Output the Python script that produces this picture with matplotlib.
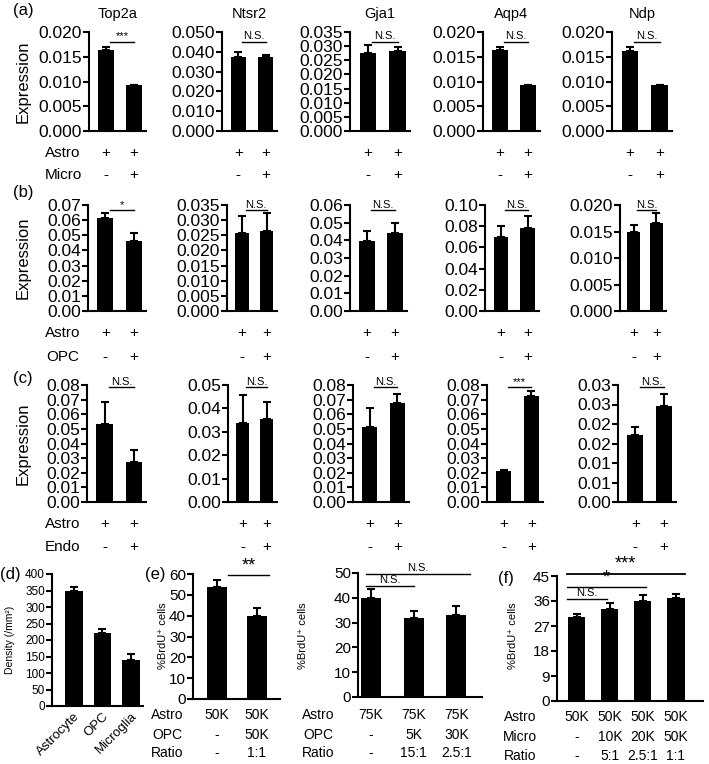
import numpy as np
import matplotlib
matplotlib.use("Agg")
import matplotlib.pyplot as plt
from matplotlib.ticker import FuncFormatter
from matplotlib.transforms import blended_transform_factory

plt.rcParams['font.family'] = ['Liberation Sans', 'DejaVu Sans']

# ---- data: qPCR expression in co-culture (rows a, b, c) ----
genes = ["Top2a", "Ntsr2", "Gja1", "Aqp4", "Ndp"]
partners = ["Micro", "OPC", "Endo"]
astro_signs = ["+", "+"]
partner_signs = ["-", "+"]

micro_mean = [[0.0163, 0.0092], [0.0374, 0.0374], [0.0275, 0.0284], [0.0163, 0.0092], [0.0162, 0.0092]]
micro_err = [[0.0007, 0.0001], [0.0025, 0.0009], [0.0030, 0.0012], [0.0007, 0.0001], [0.0008, 0.0001]]
micro_sig = ["***", "N.S.", "N.S.", "N.S.", "N.S."]

opc_mean = [[0.0613, 0.0465], [0.0258, 0.0265], [0.0396, 0.0441], [0.0694, 0.0780], [0.0149, 0.0166]]
opc_err = [[0.0033, 0.0050], [0.0056, 0.0058], [0.0058, 0.0056], [0.0112, 0.0117], [0.0013, 0.0018]]
opc_sig = ["*", "N.S.", "N.S.", "N.S.", "N.S."]

endo_mean = [[0.0532, 0.0275], [0.0337, 0.0354], [0.0516, 0.0680], [0.0209, 0.0727], [0.0172, 0.0245]]
endo_err = [[0.0150, 0.0082], [0.0120, 0.0075], [0.0129, 0.0056], [0.0011, 0.0034], [0.0020, 0.0031]]
endo_sig = ["N.S.", "N.S.", "N.S.", "***", "N.S."]

# y axis ranges (top, step, decimals)
micro_top = [0.020, 0.050, 0.035, 0.020, 0.020]
micro_step = [0.005, 0.010, 0.005, 0.005, 0.005]
micro_dec = [3, 3, 3, 3, 3]
opc_top = [0.07, 0.035, 0.06, 0.10, 0.020]
opc_step = [0.01, 0.005, 0.01, 0.02, 0.005]
opc_dec = [2, 3, 2, 2, 3]
endo_top = [0.08, 0.05, 0.08, 0.08, 0.030]
endo_step = [0.01, 0.01, 0.01, 0.01, 0.005]
endo_dec = [2, 2, 2, 2, 2]

# ---- (d) cell density ----
density_cells = ["Astrocyte", "OPC", "Microglia"]
density_mean = [350, 220, 138]
density_err = [10, 13, 19]

# ---- (e) BrdU with OPC ----
e1_mean = [54, 40]
e1_err = [3, 3.5]
e1_astro = ["50K", "50K"]
e1_opc = ["-", "50K"]
e1_ratio = ["-", "1:1"]

e2_mean = [40, 32, 33]
e2_err = [3.5, 2.5, 3.6]
e2_astro = ["75K", "75K", "75K"]
e2_opc = ["-", "5K", "30K"]
e2_ratio = ["-", "15:1", "2.5:1"]

# ---- (f) BrdU with microglia ----
f_mean = [30.1, 33.1, 36.0, 37.0]
f_err = [1.2, 2.3, 2.3, 1.4]
f_astro = ["50K", "50K", "50K", "50K"]
f_micro = ["-", "10K", "20K", "50K"]
f_ratio = ["-", "5:1", "2.5:1", "1:1"]

W, H = 709, 764
fig = plt.figure(figsize=(W / 100, H / 100), dpi=100)


def add_ax(x0, y0, x1, y1):
    return fig.add_axes([x0 / W, 1 - y1 / H, (x1 - x0) / W, (y1 - y0) / H])


def ftext(x, y, s, **kw):
    fig.text(x / W, 1 - y / H, s, **kw)


def style(ax, size):
    for s in ['top', 'right']:
        ax.spines[s].set_visible(False)
    ax.spines['left'].set_linewidth(1.5)
    ax.spines['bottom'].set_linewidth(1.5)
    ax.tick_params(axis='y', direction='out', length=4, width=1.5, pad=1, labelsize=size)
    ax.tick_params(axis='x', length=0, labelbottom=False)


def bars(ax, means, errs, width):
    x = np.arange(len(means))
    ax.bar(x, means, width, color='black', zorder=2)
    ax.errorbar(x, means, yerr=[np.zeros(len(errs)), errs], fmt='none', ecolor='black',
                elinewidth=1.5, capsize=3, capthick=1.5, zorder=3)
    return x


def half_up(dec):
    return FuncFormatter(lambda v, p: f"{np.floor(v * 10 ** dec + 0.5 + 1e-9) / 10 ** dec:.{dec}f}")


def sig_bar(ax, label, x0, x1, y, size, trans, lw=1.0):
    ax.plot([x0, x1], [y, y], color='black', lw=lw, transform=trans, clip_on=False)
    ax.annotate(label, xy=((x0 + x1) / 2, y), xycoords=trans, xytext=(0, 0.5),
                textcoords='offset points', ha='center', va='bottom', fontsize=size,
                annotation_clip=False)


def sign_row(ax, xs, labels, dy, size=11):
    for xv, lab in zip(xs, labels):
        ax.annotate(lab, xy=(xv, 0), xycoords=('data', 'axes fraction'), xytext=(0, -dy),
                    textcoords='offset pixels', ha='center', va='center', fontsize=size,
                    annotation_clip=False)


# ---- expression rows ----
row_box = [(32, 131), (205, 311), (385, 502)]
col_box = [[(89, 146), (222, 277), (350, 410), (483, 540), (612, 672)],
           [(88, 146), (227, 277), (350, 407), (485, 539), (620, 666)],
           [(87, 146), (228, 277), (353, 409), (487, 543), (618, 676)]]
row_sig_y = [0.90, 0.95, 0.98]
row_letters = ["(a)", "(b)", "(c)"]
letter_y = [10, 193, 378]
sign_dy = [(22, 44), (22, 46), (22, 45)]

rows = [(micro_mean, micro_err, micro_sig, micro_top, micro_step, micro_dec),
        (opc_mean, opc_err, opc_sig, opc_top, opc_step, opc_dec),
        (endo_mean, endo_err, endo_sig, endo_top, endo_step, endo_dec)]

for r, (means, errs, sigs, tops, steps, decs) in enumerate(rows):
    y0, y1 = row_box[r]
    for c in range(5):
        x0, x1 = col_box[r][c]
        ax = add_ax(x0, y0, x1, y1)
        style(ax, 12.5)
        xs = bars(ax, means[c], errs[c], 0.55)
        ax.set_xlim(-0.6, 1.42)
        ax.set_ylim(0, tops[c])
        ax.set_yticks(np.arange(0, tops[c] + steps[c] / 2, steps[c]))
        ax.yaxis.set_major_formatter(half_up(decs[c]))
        trans = blended_transform_factory(ax.transData, ax.transAxes)
        sig_bar(ax, sigs[c], 0.15, 1.0, row_sig_y[r], 8, trans)
        sign_row(ax, xs, astro_signs, sign_dy[r][0])
        sign_row(ax, xs, partner_signs, sign_dy[r][1])
        if r == 0:
            ax.set_title(genes[c], fontsize=10.5, pad=10)
    ftext(23, (y0 + y1) / 2, "Expression", rotation=90, ha='center', va='center', fontsize=12)
    ftext(63, y1 + sign_dy[r][0], "Astro", ha='center', va='center', fontsize=11)
    ftext(63, y1 + sign_dy[r][1], partners[r], ha='center', va='center', fontsize=11)
    ftext(23, letter_y[r], row_letters[r], ha='center', va='center', fontsize=12)

# ---- (d) ----
ax = add_ax(52, 574, 143, 706)
style(ax, 8.5)
xs = bars(ax, density_mean, density_err, 0.63)
ax.set_xlim(-0.77, 2.42)
ax.set_ylim(0, 400)
ax.set_yticks(np.arange(0, 401, 50))
ax.set_xticks(xs)
ax.set_xticklabels(density_cells, rotation=45, ha='right', rotation_mode='anchor', fontsize=9.5)
ax.tick_params(axis='x', labelbottom=True, pad=3)
ftext(10, 640, "Density (/mm²)", rotation=90, ha='center', va='center', fontsize=7.5)
ftext(10, 575, "(d)", ha='center', va='center', fontsize=12)

# ---- (e) left ----
ax = add_ax(193, 574, 280, 699)
style(ax, 11)
xs = bars(ax, e1_mean, e1_err, 0.5)
ax.set_xlim(-0.6, 1.58)
ax.set_ylim(0, 60)
ax.set_yticks(np.arange(0, 61, 10))
sig_bar(ax, "**", 0.28, 1.3, 59.5, 13, ax.transData)
sign_row(ax, xs, e1_astro, 16, 10)
sign_row(ax, xs, e1_opc, 36, 10)
sign_row(ax, xs, e1_ratio, 54, 10)
ftext(167, 715, "Astro", ha='center', va='center', fontsize=10)
ftext(167, 735, "OPC", ha='center', va='center', fontsize=10)
ftext(167, 753, "Ratio", ha='center', va='center', fontsize=10)
ftext(163, 636, "%BrdU⁺ cells", rotation=90, ha='center', va='center', fontsize=8)
ftext(155, 575, "(e)", ha='center', va='center', fontsize=12)

# ---- (e) right ----
ax = add_ax(358, 573, 482, 697)
style(ax, 11)
xs = bars(ax, e2_mean, e2_err, 0.47)
ax.set_xlim(-0.3, 2.6)
ax.set_ylim(0, 50)
ax.set_yticks(np.arange(0, 51, 10))
sig_bar(ax, "N.S.", -0.12, 2.33, 49.6, 8, ax.transData)
sig_bar(ax, "N.S.", -0.12, 1.0, 44.8, 8, ax.transData)
sign_row(ax, xs, e2_astro, 18, 10)
sign_row(ax, xs, e2_opc, 38, 10)
sign_row(ax, xs, e2_ratio, 56, 10)
ftext(318, 715, "Astro", ha='center', va='center', fontsize=10)
ftext(318, 735, "OPC", ha='center', va='center', fontsize=10)
ftext(318, 753, "Ratio", ha='center', va='center', fontsize=10)
ftext(303, 636, "%BrdU⁺ cells", rotation=90, ha='center', va='center', fontsize=8)

# ---- (f) ----
ax = add_ax(557, 576, 703, 701)
style(ax, 11)
xs = bars(ax, f_mean, f_err, 0.52)
ax.set_xlim(-0.6, 3.82)
ax.set_ylim(0, 45)
ax.set_yticks(np.arange(0, 46, 9))
sig_bar(ax, "***", -0.3, 3.27, 45.9, 13, ax.transData, lw=1.3)
sig_bar(ax, "*", -0.3, 2.1, 41.0, 13, ax.transData)
sig_bar(ax, "N.S.", -0.3, 0.9, 36.7, 8, ax.transData)
sign_row(ax, xs, f_astro, 16, 10)
sign_row(ax, xs, f_micro, 36, 10)
sign_row(ax, xs, f_ratio, 55, 10)
ftext(520, 717, "Astro", ha='center', va='center', fontsize=10)
ftext(520, 737, "Micro", ha='center', va='center', fontsize=10)
ftext(520, 756, "Ratio", ha='center', va='center', fontsize=10)
ftext(513, 636, "%BrdU⁺ cells", rotation=90, ha='center', va='center', fontsize=8)
ftext(506, 578, "(f)", ha='center', va='center', fontsize=12)

fig.savefig("out.png", dpi=100)
